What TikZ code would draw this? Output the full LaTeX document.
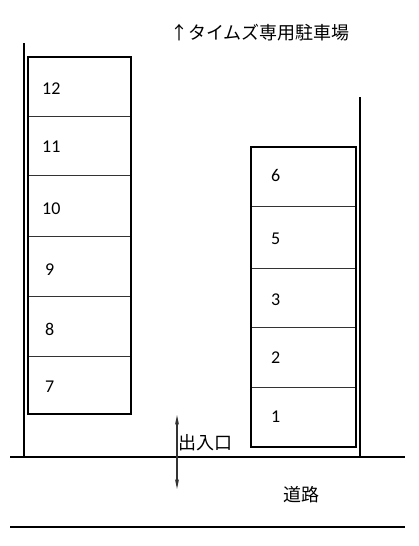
\documentclass[tikz,border=0pt]{standalone}
\usepackage{fontspec}
\usetikzlibrary{arrows.meta}
\setmainfont{Carlito}
\newfontfamily\jp{Noto Sans CJK JP}
\begin{document}
\begin{tikzpicture}[x=1pt,y=-1pt,
  wall/.style={line width=2pt},
  bay/.style={line width=2pt},
  divider/.style={line width=0.9pt,black!80},
  num/.style={anchor=west,inner sep=0pt,font=\fontsize{18}{18}\selectfont},
  jlabel/.style={inner sep=0pt,font=\jp\fontsize{18}{18}\selectfont}]
\useasboundingbox (0,0) rectangle (418,546);
% walls
\coordinate (lwt) at (24,43); \coordinate (lwb) at (24,456);
\coordinate (rwt) at (360,97); \coordinate (rwb) at (360,456);
\draw[wall] (lwt) -- (lwb);
\draw[wall] (rwt) -- (rwb);
% road
\coordinate (r1a) at (10,457); \coordinate (r1b) at (405,457);
\coordinate (r2a) at (10,527); \coordinate (r2b) at (405,527);
\draw[wall] (r1a) -- (r1b);
\draw[wall] (r2a) -- (r2b);
% left bays
\node[bay,draw,minimum width=103pt,minimum height=357pt,inner sep=0pt] (L) at (79.5,235.5) {};
\foreach \y in {116,175,236,296,356} \draw[divider] (29,\y) -- (130,\y);
\node[num] (n12) at (42,89) {12};
\node[num] (n11) at (42,147) {11};
\node[num] (n10) at (42,209) {10};
\node[num] (n9) at (45,270) {9};
\node[num] (n8) at (45,329) {8};
\node[num] (n7) at (45,387) {7};
% right bays
\node[bay,draw,minimum width=105pt,minimum height=300pt,inner sep=0pt] (R) at (303.5,297) {};
\foreach \y in {206,268,327,387} \draw[divider] (252,\y) -- (355,\y);
\node[num] (n6) at (271,175) {6};
\node[num] (n5) at (271,239) {5};
\node[num] (n3) at (271,300) {3};
\node[num] (n2) at (271,358) {2};
\node[num] (n1) at (271,417) {1};
% entrance arrow
\coordinate (at) at (177,415); \coordinate (ab) at (177,489);
\draw[line width=1.2pt,black!80,{Stealth[length=10pt,width=4pt]}-{Stealth[length=10pt,width=4pt]}] (at) -- (ab);
\node[jlabel,anchor=west] (ent) at (178,443) {出入口};
\node[jlabel,anchor=west] (road) at (283,495) {道路};
\node[jlabel,anchor=west] (title) at (170,33) {↑タイムズ専用駐車場};
\end{tikzpicture}
\end{document}
